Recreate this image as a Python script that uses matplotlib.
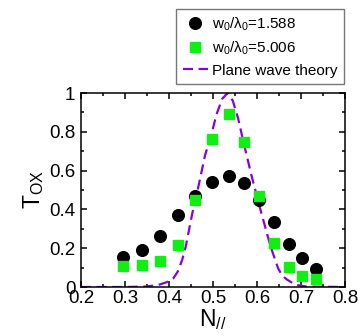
import matplotlib
matplotlib.use('Agg')
import matplotlib.pyplot as plt
from matplotlib.ticker import MultipleLocator

plt.rcParams['font.family'] = ['Liberation Sans', 'DejaVu Sans']
plt.rcParams['mathtext.default'] = 'regular'

# N_// values of the simulations
n_par = [0.296, 0.339, 0.380, 0.421, 0.459, 0.497, 0.536, 0.571, 0.605, 0.639, 0.673, 0.702, 0.734]
t_narrow = [0.155, 0.193, 0.264, 0.371, 0.469, 0.543, 0.574, 0.534, 0.448, 0.334, 0.224, 0.148, 0.091]
t_wide = [0.109, 0.112, 0.133, 0.216, 0.448, 0.764, 0.893, 0.745, 0.471, 0.229, 0.103, 0.059, 0.041]

# plane wave theory
n_theory = [0.20, 0.30, 0.345, 0.375, 0.395, 0.41, 0.42, 0.43, 0.438, 0.453, 0.468, 0.482,
            0.4945, 0.508, 0.521, 0.533, 0.545, 0.557, 0.570, 0.588, 0.610, 0.631,
            0.648, 0.657, 0.667, 0.687, 0.712, 0.80]
t_theory = [0.0, 0.0, 0.002, 0.01, 0.025, 0.045, 0.08, 0.14, 0.208, 0.38, 0.53, 0.68,
            0.77, 0.89, 0.97, 1.0, 0.96, 0.87, 0.74, 0.57, 0.38, 0.208,
            0.096, 0.06, 0.04, 0.012, 0.002, 0.0]

labels = ['w$_0$/λ$_0$=1.588', 'w$_0$/λ$_0$=5.006', 'Plane wave theory']

fig = plt.figure(figsize=(3.61, 3.36), dpi=100)
ax = fig.add_axes([81/361, 49/336, 264/361, 194/336])

l1, = ax.plot(n_par, t_narrow, 'o', color='black', ms=8.4, zorder=3)
l2, = ax.plot(n_par, t_wide, 's', color='#11ee11', ms=7.2, zorder=3)
l3, = ax.plot(n_theory, t_theory, color='#8800dd', lw=1.6, ls=(0, (4.5, 2.5)), zorder=2)

ax.set_xlim(0.2, 0.8)
ax.set_ylim(0, 1)
ax.xaxis.set_minor_locator(MultipleLocator(0.05))
ax.yaxis.set_minor_locator(MultipleLocator(0.1))
ax.set_xticks([0.2, 0.3, 0.4, 0.5, 0.6, 0.7, 0.8])
ax.set_xticklabels(['0.2', '0.3', '0.4', '0.5', '0.6', '0.7', '0.8'])
ax.set_yticks([0, 0.2, 0.4, 0.6, 0.8, 1.0])
ax.set_yticklabels(['0', '0.2', '0.4', '0.6', '0.8', '1'])
ax.tick_params(which='both', direction='in', top=True, right=True, width=1.1)
ax.tick_params(which='major', length=4.5, labelsize=13.5)
ax.tick_params(which='minor', length=2.5)
ax.tick_params(axis='x', pad=2)
ax.tick_params(axis='y', pad=4)
for s in ax.spines.values():
    s.set_linewidth(1.1)

ax.set_xlabel('N$_{//}$', fontsize=16.5, labelpad=0)
ax.set_ylabel('T$_{OX}$', fontsize=16.5, labelpad=2)

leg = fig.legend([l1, l2, l3], labels, loc='upper right', bbox_to_anchor=(344/361, 1 - 9/336),
                 fontsize=11, frameon=True, fancybox=False, numpoints=1, handlelength=1.65,
                 handletextpad=0.3, borderpad=0.4, labelspacing=0.45, borderaxespad=0)
leg.get_frame().set_edgecolor('#555555')
leg.get_frame().set_linewidth(1.0)

fig.savefig('out.png', dpi=100)
